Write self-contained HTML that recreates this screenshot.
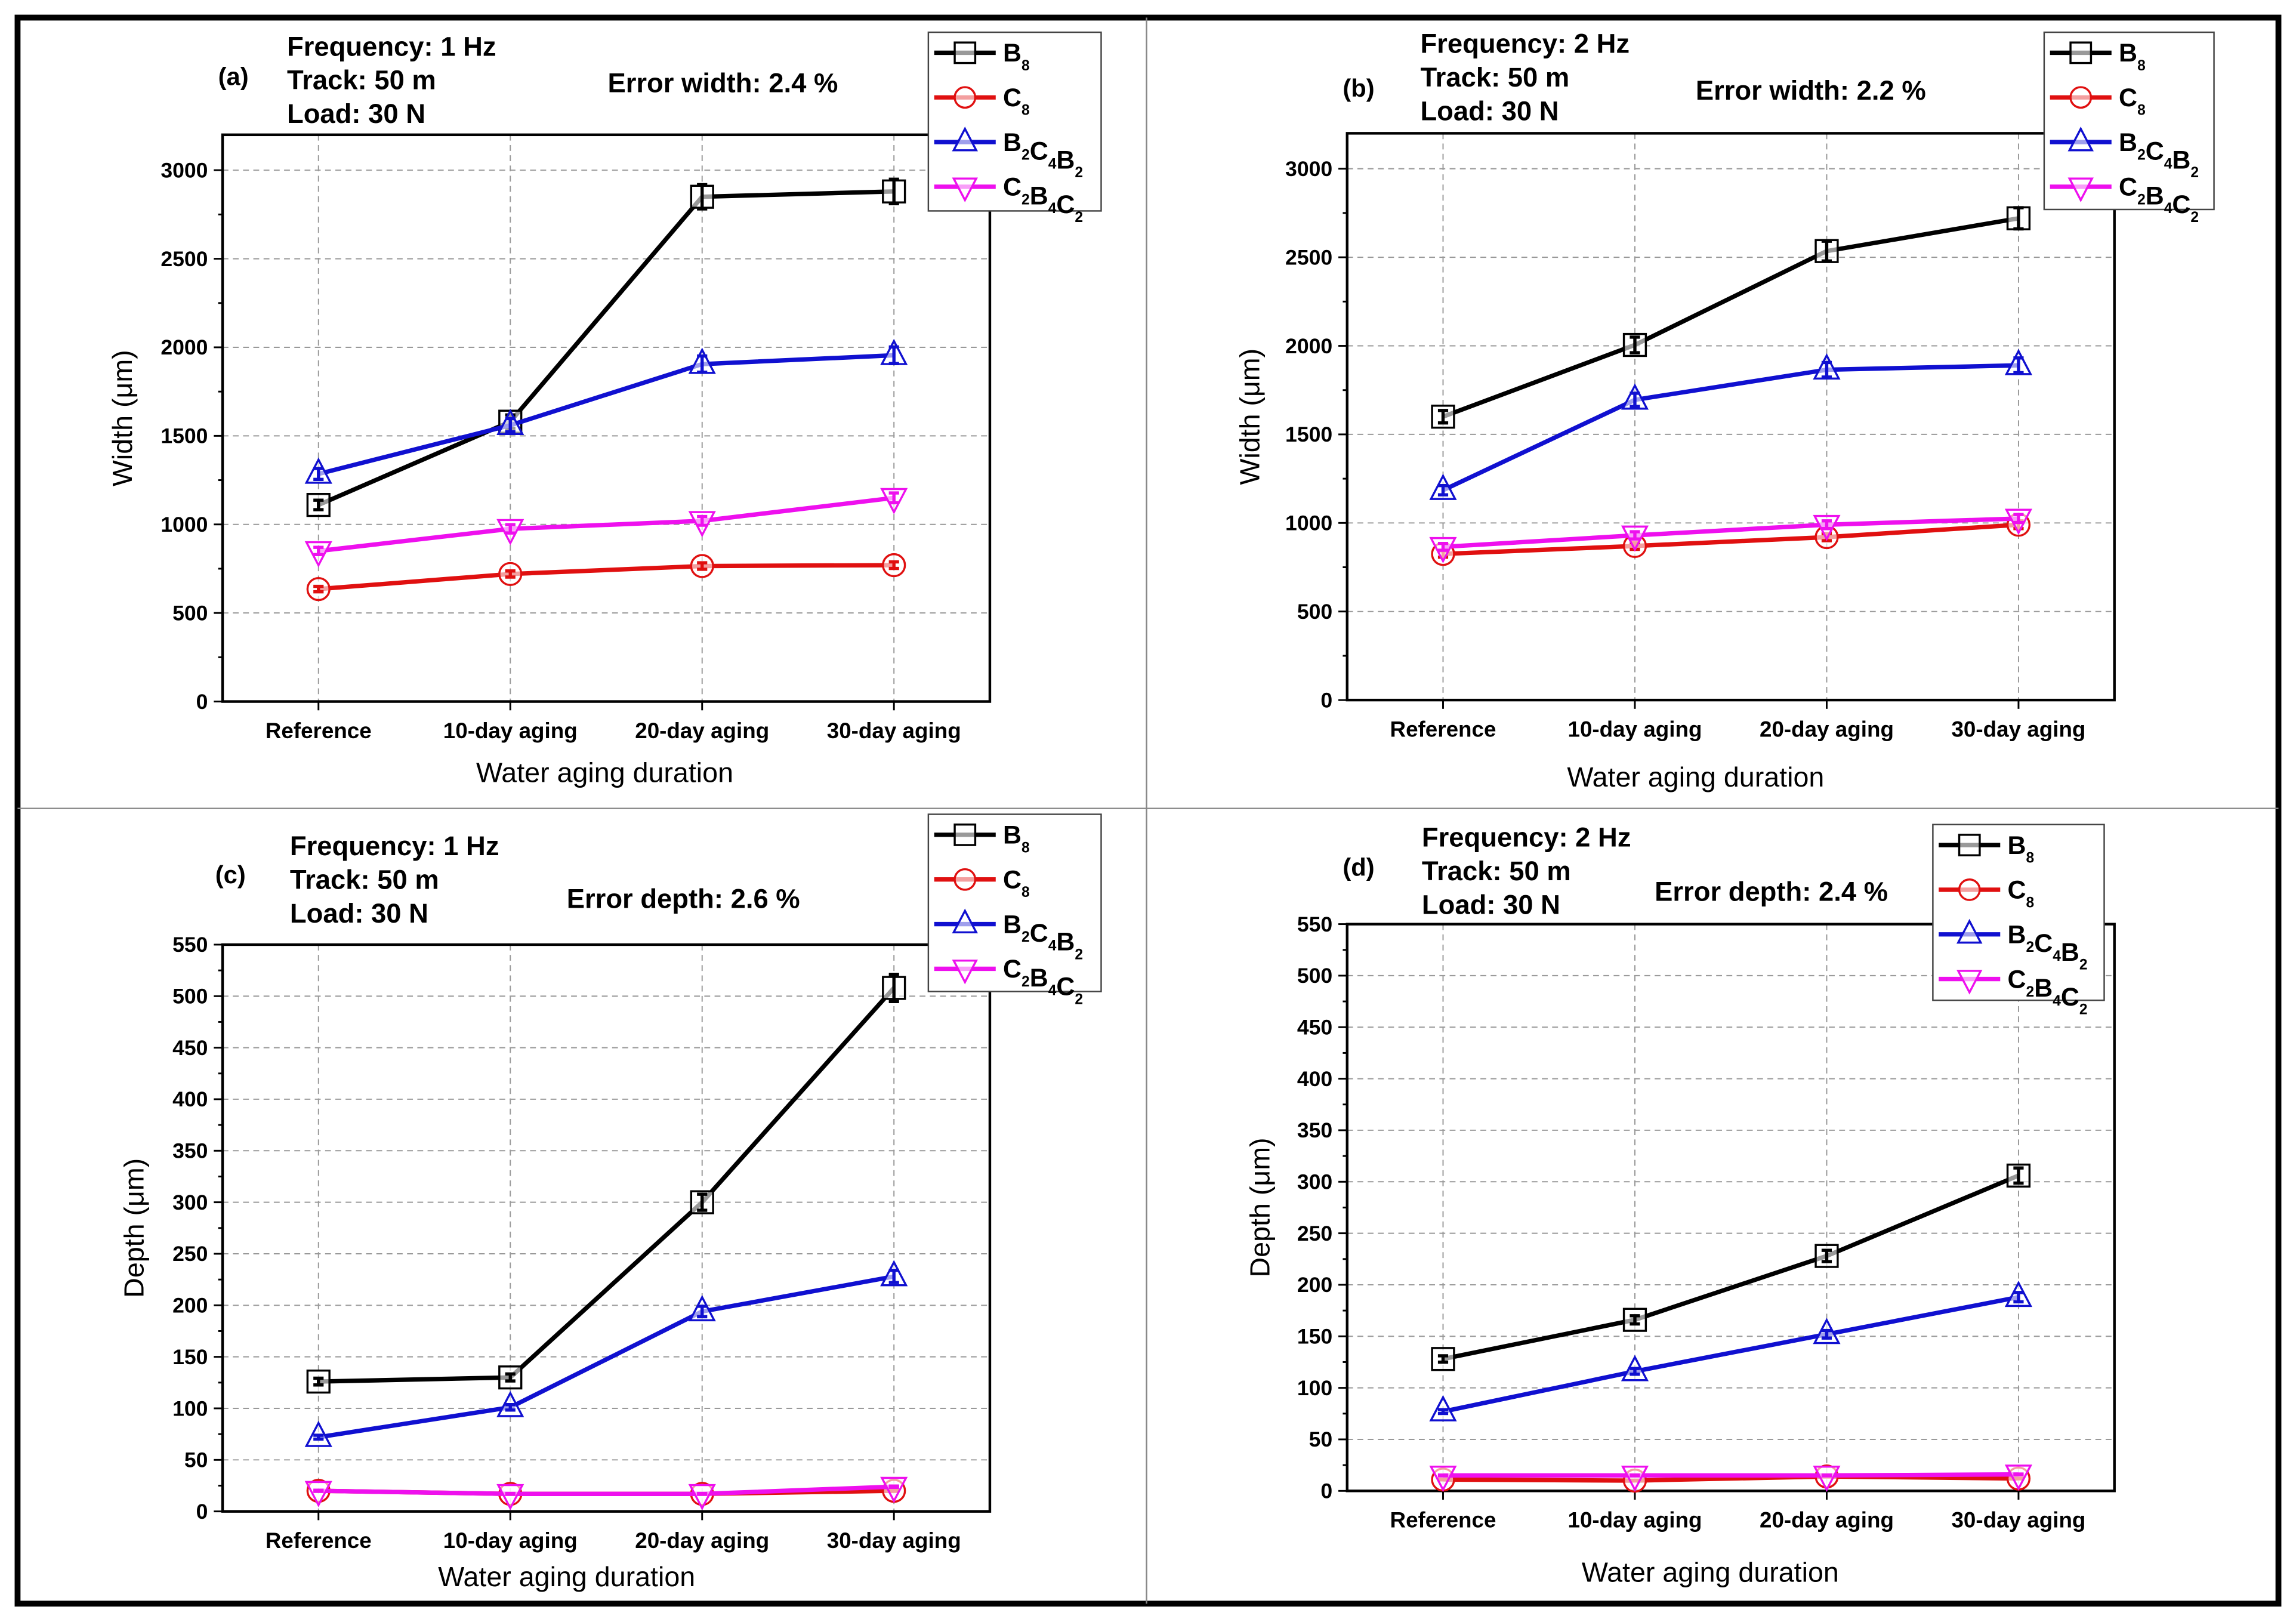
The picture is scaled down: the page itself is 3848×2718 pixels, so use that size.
<!DOCTYPE html>
<html><head><meta charset="utf-8"><style>
html,body{margin:0;padding:0;background:#fff;}
svg{display:block;font-family:"Liberation Sans",sans-serif;}
</style></head>
<body>
<svg id="fig" width="3848" height="2718" viewBox="0 0 1568 1107.5" xmlns="http://www.w3.org/2000/svg">
<rect x="0" y="0" width="1568" height="1107.5" fill="#fff"/>
<rect x="12" y="12" width="1544" height="1083" fill="none" stroke="#000" stroke-width="4"/>
<line x1="783" y1="12" x2="783" y2="1095" stroke="#888" stroke-width="1"/>
<line x1="12" y1="552" x2="1556" y2="552" stroke="#888" stroke-width="1"/>
</svg>
<script>
const categories = ["Reference","10-day aging","20-day aging","30-day aging"];
const seriesNames = ["B8","C8","B2C4B2","C2B4C2"];
const widthTicks = [0,500,1000,1500,2000,2500,3000];
const depthTicks = [0,50,100,150,200,250,300,350,400,450,500,550];
// panel (a) width 1 Hz
const aB8 = [1110,1580,2850,2880];
const aC8 = [635,720,765,770];
const aB2C4B2 = [1285,1560,1905,1955];
const aC2B4C2 = [850,975,1020,1150];
// panel (b) width 2 Hz
const bB8 = [1600,2005,2535,2720];
const bC8 = [825,870,920,990];
const bB2C4B2 = [1185,1695,1865,1890];
const bC2B4C2 = [865,930,990,1025];
// panel (c) depth 1 Hz
const cB8 = [126,130,300,508];
const cC8 = [20,17,17,20];
const cB2C4B2 = [72,101,194,228];
const cC2B4C2 = [20,17,17,24];
// panel (d) depth 2 Hz
const dB8 = [128,166,228,306];
const dC8 = [11,10,14,12];
const dB2C4B2 = [77,116,152,188];
const dC2B4C2 = [15,15,15,16];
const errPct = [2.4,2.2,2.6,2.4];

const NS="http://www.w3.org/2000/svg";
const svg=document.getElementById('fig');
function mk(tag,attrs,parent){const e=document.createElementNS(NS,tag);for(const k in attrs)e.setAttribute(k,attrs[k]);(parent||svg).appendChild(e);return e;}
const colors=["#000","#e01010","#1010d0","#ee10ee"];

const panels=[
 {id:'a',L:152,R:676,T:92,B:479,max:3200,ticks:widthTicks,minor:250,data:[aB8,aC8,aB2C4B2,aC2B4C2],err:errPct[0],
  ytitle:'Width (\u03bcm)',yx:90,freq:'Frequency: 1 Hz',fx:196,fy:38,lab:'(a)',lx:149,ly:58,etxt:'Error width: 2.4 %',ex:415,ey:63,
  xl:504,xt:534,xtx:413,leg:[634,22,118,122]},
 {id:'b',L:920,R:1444,T:91,B:478,max:3200,ticks:widthTicks,minor:250,data:[bB8,bC8,bB2C4B2,bC2B4C2],err:errPct[1],
  ytitle:'Width (\u03bcm)',yx:860,freq:'Frequency: 2 Hz',fx:970,fy:36,lab:'(b)',lx:917,ly:66,etxt:'Error width: 2.2 %',ex:1158,ey:68,
  xl:503,xt:537,xtx:1158,leg:[1396,22,116,121]},
 {id:'c',L:152,R:676,T:645,B:1032,max:550,ticks:depthTicks,minor:25,data:[cB8,cC8,cB2C4B2,cC2B4C2],err:errPct[2],
  ytitle:'Depth (\u03bcm)',yx:98,freq:'Frequency: 1 Hz',fx:198,fy:584,lab:'(c)',lx:147,ly:603,etxt:'Error depth: 2.6 %',ex:387,ey:620,
  xl:1057,xt:1083,xtx:387,leg:[634,556,118,121]},
 {id:'d',L:920,R:1444,T:631,B:1018,max:550,ticks:depthTicks,minor:25,data:[dB8,dC8,dB2C4B2,dC2B4C2],err:errPct[3],
  ytitle:'Depth (\u03bcm)',yx:867,freq:'Frequency: 2 Hz',fx:971,fy:578,lab:'(d)',lx:917,ly:598,etxt:'Error depth: 2.4 %',ex:1130,ey:615,
  xl:1043,xt:1080,xtx:1168,leg:[1320,563,117,120]}
];

function marker(g,k,x,y,c,r){
 if(k===0) mk('rect',{x:x-r,y:y-r,width:2*r,height:2*r,fill:'#fff','fill-opacity':0.6,stroke:c,'stroke-width':1.4},g);
 else if(k===1) mk('circle',{cx:x,cy:y,r:r,fill:'#fff','fill-opacity':0.6,stroke:c,'stroke-width':1.4},g);
 else if(k===2) mk('polygon',{points:`${x},${y-r*1.3} ${x-r*1.1},${y+r*0.8} ${x+r*1.1},${y+r*0.8}`,fill:'#fff','fill-opacity':0.6,stroke:c,'stroke-width':1.4},g);
 else mk('polygon',{points:`${x},${y+r*1.3} ${x-r*1.1},${y-r*0.8} ${x+r*1.1},${y-r*0.8}`,fill:'#fff','fill-opacity':0.6,stroke:c,'stroke-width':1.4},g);
}

panels.forEach(p=>{
 const g=mk('g',{});
 
 
 const yScale=v=>p.B-(v/p.max)*(p.B-p.T);
 const n=categories.length;
 const step=(p.R-p.L)/n;
 const xScale=i=>p.L+step*(i+0.5);
 p.ticks.forEach(t=>{
  if(t>0 && t<p.max){const gl=mk('line',{x1:p.L,x2:p.R,y1:yScale(t),y2:yScale(t),stroke:'#999','stroke-width':0.8,'stroke-dasharray':'4,3'},g);
   }
 });
 categories.forEach((c,i)=>{
  const gl=mk('line',{x1:xScale(i),x2:xScale(i),y1:p.T,y2:p.B,stroke:'#999','stroke-width':0.8,'stroke-dasharray':'4,3'},g);
  
 });
 const fr=mk('rect',{x:p.L,y:p.T,width:p.R-p.L,height:p.B-p.T,fill:'none',stroke:'#000','stroke-width':1.8},g);
 
 for(let v=0;v<=p.max+0.001;v+=p.minor){
  const major=p.ticks.includes(v);
  mk('line',{x1:p.L-(major?6:3),x2:p.L,y1:yScale(v),y2:yScale(v),stroke:'#000','stroke-width':1.2},g);
 }
 p.ticks.forEach(t=>{
  const tx=mk('text',{x:p.L-10,y:yScale(t)+5,'text-anchor':'end','font-size':14.5,'font-weight':'bold'},g);
  tx.textContent=t;
  
 });
 categories.forEach((c,i)=>{
  mk('line',{x1:xScale(i),x2:xScale(i),y1:p.B,y2:p.B+6,stroke:'#000','stroke-width':1.2},g);
  const tx=mk('text',{x:xScale(i),y:p.xl,'text-anchor':'middle','font-size':15,'font-weight':'bold'},g);
  tx.textContent=c;
  
 });
 const xt=mk('text',{x:p.xtx,y:p.xt,'text-anchor':'middle','font-size':19},g);
 xt.textContent='Water aging duration';
 
 const ym=(p.T+p.B)/2;
 const yt=mk('text',{x:p.yx,y:ym,'text-anchor':'middle','font-size':19,transform:`rotate(-90 ${p.yx} ${ym})`},g);
 yt.textContent=p.ytitle;
 
 [[p.freq,p.fy],['Track: 50 m',p.fy+23],['Load: 30 N',p.fy+46]].forEach(([s,y])=>{
  const t=mk('text',{x:p.fx,y:y,'font-size':18.5,'font-weight':'bold'},g);t.textContent=s;
  
 });
 const la=mk('text',{x:p.lx,y:p.ly,'font-size':17,'font-weight':'bold'},g);la.textContent=p.lab;
 
 const et=mk('text',{x:p.ex,y:p.ey,'font-size':18.5,'font-weight':'bold'},g);et.textContent=p.etxt;
 
 p.data.forEach((vals,k)=>{
  const sg=mk('g',{},g);
  
  
  const pts=vals.map((v,i)=>`${xScale(i)},${yScale(v)}`).join(' ');
  mk('polyline',{points:pts,fill:'none',stroke:colors[k],'stroke-width':3},sg);
  vals.forEach((v,i)=>{
   const x=xScale(i),y=yScale(v),e=v*p.err/100;
   marker(sg,k,x,y,colors[k],7.5);
   const y1=yScale(v+e),y2=yScale(v-e);
   mk('line',{x1:x,x2:x,y1:y1,y2:y2,stroke:colors[k],'stroke-width':2.2},sg);
   mk('line',{x1:x-3.5,x2:x+3.5,y1:y1,y2:y1,stroke:colors[k],'stroke-width':2.2},sg);
   mk('line',{x1:x-3.5,x2:x+3.5,y1:y2,y2:y2,stroke:colors[k],'stroke-width':2.2},sg);
  });
 });
 const [lx,ly,lw,lh]=p.leg;
 const lg=mk('g',{},g);
 
 mk('rect',{x:lx,y:ly,width:lw,height:lh,fill:'#fff',stroke:'#444','stroke-width':1},lg);
 const labels=[[['B','8']],[['C','8']],[['B','2'],['C','4'],['B','2']],[['C','2'],['B','4'],['C','2']]];
 labels.forEach((parts,k)=>{
  const y=ly+14+k*30.5;
  const e=mk('g',{},lg);
  
  mk('line',{x1:lx+4,x2:lx+46,y1:y,y2:y,stroke:colors[k],'stroke-width':3},e);
  marker(e,k,lx+25,y,colors[k],7);
  const t=mk('text',{x:lx+51,y:y+6,'font-size':17.5,'font-weight':'bold'},e);
  parts.forEach(([a,b])=>{
   const t1=document.createElementNS(NS,'tspan');t1.textContent=a;t.appendChild(t1);
   const t2=document.createElementNS(NS,'tspan');t2.setAttribute('font-size','10');t2.setAttribute('dy','6');t2.textContent=b;t.appendChild(t2);
   const t3=document.createElementNS(NS,'tspan');t3.setAttribute('dy','-6');t3.textContent='';t.appendChild(t3);
  });
 });
});
</script>
</body></html>
